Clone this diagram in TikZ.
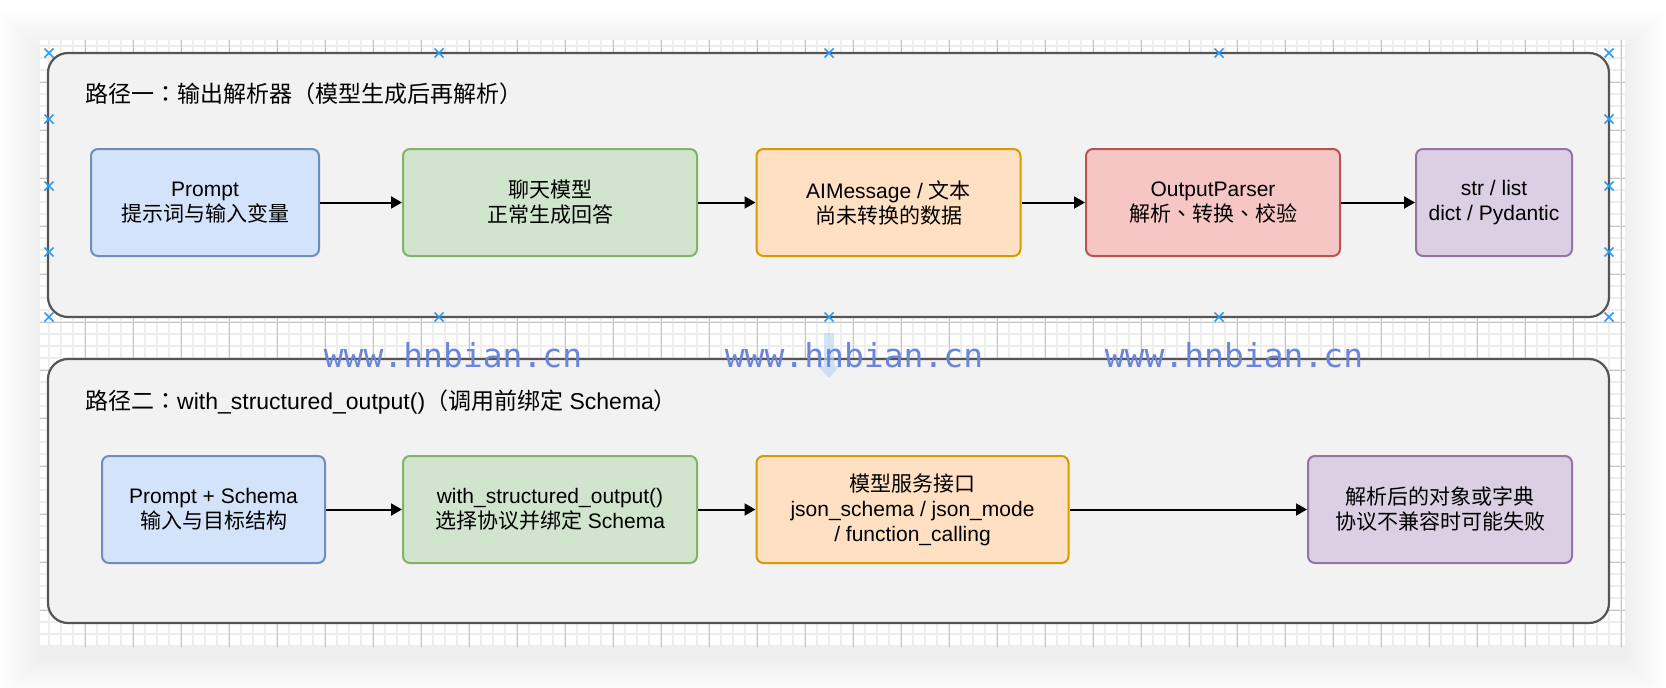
\documentclass[tikz,border=0pt]{standalone}
\usepackage{fontspec}
\setmainfont{Liberation Sans}
\newfontfamily\cjkfont{Noto Sans CJK SC}
\newfontfamily\cjkpunct{Noto Sans CJK TC}
\newfontfamily\wmfont{DejaVu Sans Mono}
\usepackage{xcolor}
\usepackage{tikz}
\usetikzlibrary{arrows.meta}
\usetikzlibrary{positioning}

\definecolor{panelfill}{HTML}{F2F2F2}
\definecolor{panelline}{HTML}{555555}
\definecolor{bluefill}{HTML}{D3E3FA}
\definecolor{blueline}{HTML}{6C8EBF}
\definecolor{greenfill}{HTML}{D1E5CE}
\definecolor{greenline}{HTML}{82B366}
\definecolor{orangefill}{HTML}{FFE0C3}
\definecolor{orangeline}{HTML}{D79B00}
\definecolor{redfill}{HTML}{F5C6C3}
\definecolor{redline}{HTML}{B85450}
\definecolor{purplefill}{HTML}{DCCFE3}
\definecolor{purpleline}{HTML}{9673A6}
\definecolor{gridlight}{HTML}{EEEEEE}
\definecolor{griddark}{HTML}{C4C4C4}
\definecolor{handleblue}{HTML}{2A9DF0}
\definecolor{wmblue}{HTML}{6B85DA}
\definecolor{ghostblue}{HTML}{B5D5F2}

\newcommand{\zh}[1]{{\cjkfont #1}}
\newcommand{\zhp}[1]{{\cjkpunct #1}}

\tikzset{
	panel/.style={fill=panelfill, draw=panelline, line width=2.2pt, rounded corners=20pt},
	flowbox/.style={rounded corners=7pt, line width=2pt, minimum height=107pt, inner sep=0pt, align=center, font=\fontsize{21}{25}\selectfont},
	bluebox/.style={flowbox, fill=bluefill, draw=blueline},
	greenbox/.style={flowbox, fill=greenfill, draw=greenline},
	orangebox/.style={flowbox, fill=orangefill, draw=orangeline},
	redbox/.style={flowbox, fill=redfill, draw=redline},
	purplebox/.style={flowbox, fill=purplefill, draw=purpleline},
	flow/.style={-{Triangle[length=11pt,width=12pt]}, line width=2pt, black},
	title/.style={anchor=base west, inner sep=0pt, font=\fontsize{23}{28}\selectfont},
	watermark/.style={anchor=base, inner sep=0pt, text=wmblue, font=\wmfont\fontsize{33}{33}\selectfont},
	handle/.style={draw=handleblue, line width=1.6pt},
	gridminor/.style={draw=gridlight, line width=1.6pt},
	gridmajor/.style={draw=griddark, line width=0.8pt},
}

\begin{document}
\begin{tikzpicture}[x=1pt, y=-1pt]
	
	\useasboundingbox (0,0) rectangle (1666,688);
	\fill[white] (0,0) rectangle (1666,688);
	
	\foreach \s in {1,...,16}
		\fill[black, opacity=0.0045] (40-2.5*\s, 50-2.5*\s) rectangle (1625+2.5*\s, 657+2.5*\s);
	
	\begin{scope}
		\clip (40,40) rectangle (1625,647);
		\fill[white] (40,40) rectangle (1625,647);
		\foreach \i in {3,...,135}
			\draw[gridminor] (1+12*\i, 40) -- (1+12*\i, 647);
		\foreach \j in {3,...,53}
			\draw[gridminor] (40, 10+12*\j) -- (1625, 10+12*\j);
		\foreach \i in {0,...,33}
			\draw[gridmajor] (37+48*\i, 40) -- (37+48*\i, 647);
		\foreach \j in {0,...,12}
			\draw[gridmajor] (40, 34+48*\j) -- (1625, 34+48*\j);
	\end{scope}
	
	\draw[panel] (48,53) rectangle (1609,317);
	\draw[panel] (48,359) rectangle (1609,623);
	
	\node[title] (titleone) at (85,102) {\zh{路径一}\zhp{：}\zh{输出解析器（模型生成后再解析）}};
	\node[title] (titletwo) at (85,409) {\zh{路径二}\zhp{：}with\_structured\_output()\zh{（调用前绑定} Schema\zh{）}};
	
	\node[bluebox, minimum width=228pt] (prompt) at (205,202.5) {Prompt\\\zh{提示词与输入变量}};
	\node[greenbox, minimum width=294pt] (chat) at (550,202.5) {\zh{聊天模型}\\\zh{正常生成回答}};
	\node[orangebox, minimum width=264pt] (aimsg) at (888.5,202.5) {AIMessage / \zh{文本}\\\zh{尚未转换的数据}};
	\node[redbox, minimum width=254pt] (parser) at (1213,202.5) {OutputParser\\\zh{解析}\zhp{、}\zh{转换}\zhp{、}\zh{校验}};
	\node[purplebox, minimum width=156pt] (result) at (1494,202.5) {str / list\\dict / Pydantic};
	
	\draw[flow] (prompt) -- (chat);
	\draw[flow] (chat) -- (aimsg);
	\draw[flow] (aimsg) -- (parser);
	\draw[flow] (parser) -- (result);
	
	\node[bluebox, minimum width=223pt] (input) at (213.5,509.5) {Prompt + Schema\\\zh{输入与目标结构}};
	\node[greenbox, minimum width=294pt] (bind) at (550,509.5) {with\_structured\_output()\\\zh{选择协议并绑定} Schema};
	\node[orangebox, minimum width=312pt] (api) at (912.5,509.5) {\zh{模型服务接口}\\json\_schema / json\_mode\\/ function\_calling};
	\node[purplebox, minimum width=264pt] (parsed) at (1440,509.5) {\zh{解析后的对象或字典}\\\zh{协议不兼容时可能失败}};
	
	\draw[flow] (input) -- (bind);
	\draw[flow] (bind) -- (api);
	\draw[flow] (api) -- (parsed);
	
	\foreach \p in {(49,53),(439,53),(829,53),(1219,53),(1609,53),(49,317),(439,317),(829,317),(1219,317),(1609,317),(49,119),(49,186),(49,252),(1609,119),(1609,186),(1609,252)}
		\draw[handle] \p ++(-4.5,-4.5) -- ++(9,9) \p ++(-4.5,4.5) -- ++(9,-9);
	
	\fill[ghostblue, opacity=0.6] (824,333) -- (834,333) -- (834,366) -- (840,366) -- (829,378) -- (818,366) -- (824,366) -- cycle;
	
	\node[watermark] (wmone) at (453,367) {www.hnbian.cn};
	\node[watermark] (wmtwo) at (854,367) {www.hnbian.cn};
	\node[watermark] (wmthree) at (1234,367) {www.hnbian.cn};
	
\end{tikzpicture}
\end{document}
